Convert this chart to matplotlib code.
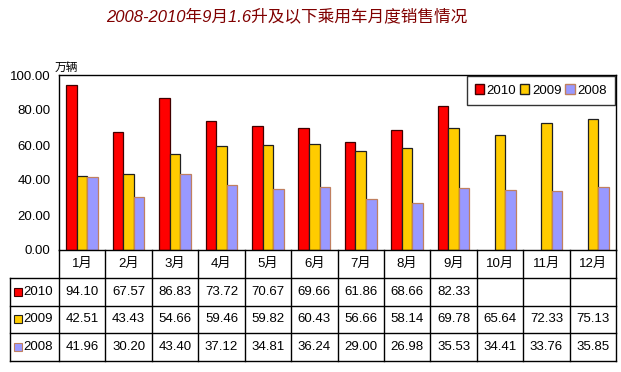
import numpy as np
import matplotlib.pyplot as plt
from matplotlib.patches import Patch

plt.rcParams['font.family'] = ['Liberation Sans', 'Noto Sans CJK SC']

months = ['1月', '2月', '3月', '4月', '5月', '6月', '7月', '8月', '9月', '10月', '11月', '12月']
years = ['2010', '2009', '2008']
v2010 = [94.10, 67.57, 86.83, 73.72, 70.67, 69.66, 61.86, 68.66, 82.33]
v2009 = [42.51, 43.43, 54.66, 59.46, 59.82, 60.43, 56.66, 58.14, 69.78, 65.64, 72.33, 75.13]
v2008 = [41.96, 30.20, 43.40, 37.12, 34.81, 36.24, 29.00, 26.98, 35.53, 34.41, 33.76, 35.85]
series = [v2010, v2009, v2008]
colors = ['#ff0000', '#ffcc00', '#9999ff']
edges = ['#400000', '#202020', '#c08060']

W, H = 621, 372
fig = plt.figure(figsize=(W / 100, H / 100), dpi=100)

ax = fig.add_axes([59 / W, 1 - 250 / H, (616 - 59) / W, (250 - 75) / H])
bw = 0.227
for k, vals in enumerate(series):
    x = np.arange(len(vals)) + 0.5 + (k - 1) * bw
    ax.bar(x, vals, width=bw, color=colors[k], edgecolor=edges[k], linewidth=0.9)
ax.set_xlim(0, 12)
ax.set_ylim(0, 100)
ax.set_yticks(np.arange(0, 101, 20))
ax.set_yticklabels(['%.2f' % t for t in np.arange(0, 101, 20)], fontsize=9.5)
ax.set_xticks([])
ax.tick_params(axis='y', length=0, pad=6)
for s in ax.spines.values():
    s.set_color('black')
    s.set_linewidth(1)

handles = [Patch(facecolor=colors[k], edgecolor=edges[k], label=years[k]) for k in range(3)]
leg = ax.legend(handles=handles, loc='upper right', ncol=3, fontsize=9.5,
                frameon=True, fancybox=False, borderaxespad=0.1,
                handlelength=0.7, handleheight=0.8, handletextpad=0.2,
                columnspacing=0.3, borderpad=0.6)
leg.get_frame().set_edgecolor('black')
leg.get_frame().set_linewidth(1)

fig.text(0.5 * (105 + 468) / W, 1 - 16 / H, '2008-2010年9月1.6升及以下乘用车月度销售情况',
         ha='center', va='center', fontsize=12, color='#800000', style='italic')
fig.text(66 / W, 1 - 68 / H, '万辆', ha='center', va='center', fontsize=8.5)

# data table under the chart
lw = 49 / 46.4
tax = fig.add_axes([10 / W, 1 - 361 / H, (616 - 10) / W, (361 - 250) / H])
tax.set_xlim(-lw, 12)
tax.set_ylim(4, 0)
tax.axis('off')
for r in range(1, 5):
    tax.plot([-lw, 12], [r, r], color='black', lw=1, clip_on=False)
tax.plot([-lw, -lw], [1, 4], color='black', lw=1, clip_on=False)
for c in range(13):
    tax.plot([c, c], [0, 4], color='black', lw=1, clip_on=False)
for i, m in enumerate(months):
    tax.text(i + 0.5, 0.5, m, ha='center', va='center', fontsize=9.5)
for k, vals in enumerate(series):
    row = k + 1.5
    tax.plot(-lw + 0.17, row, marker='s', markersize=5.5, color=colors[k],
             markeredgecolor=edges[k], markeredgewidth=0.8)
    tax.text(-lw + 0.28, row, years[k], ha='left', va='center', fontsize=9.5)
    for i, v in enumerate(vals):
        tax.text(i + 0.5, row, '%.2f' % v, ha='center', va='center', fontsize=9.5)

fig.savefig('out.png', dpi=100, facecolor='white')
